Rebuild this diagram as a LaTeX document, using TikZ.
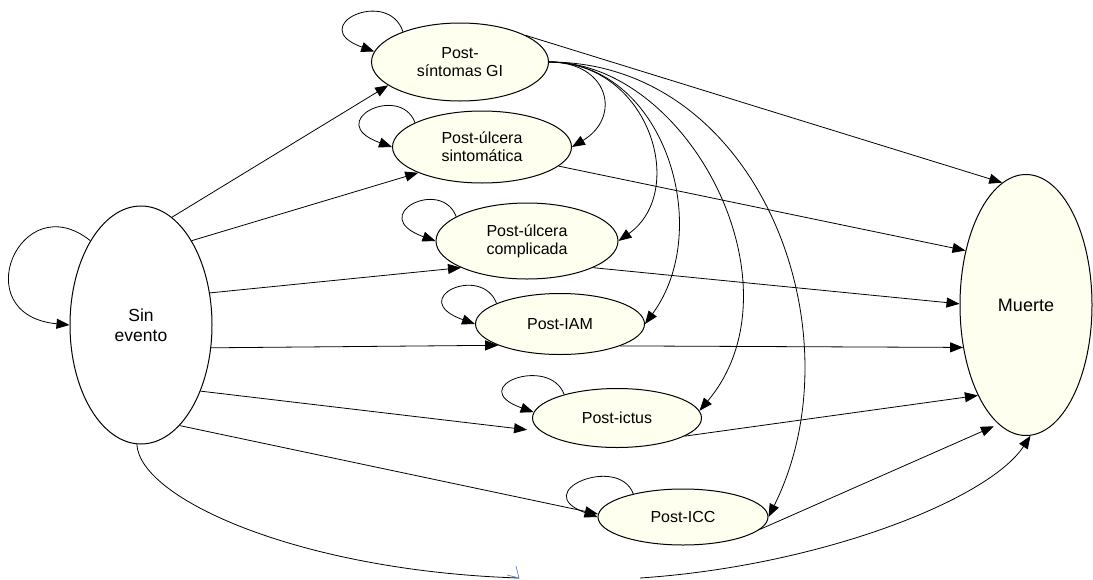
\documentclass[tikz,border=0pt]{standalone}
\usepackage{fontspec}
\setmainfont{Liberation Sans}
\usetikzlibrary{arrows.meta,shapes.geometric}
\definecolor{ivory}{RGB}{255,255,240}
\definecolor{tipblue}{RGB}{79,129,189}
\begin{document}
\begin{tikzpicture}[x=1pt,y=-1pt,
  state/.style={ellipse, draw=black, line width=1pt, fill=ivory, inner sep=0pt,
    align=center, font=\fontsize{16}{18}\selectfont},
  conn/.style={line width=0.8pt, -{Triangle[length=13pt,width=10pt]}},
  plain/.style={line width=0.8pt},
  selfloop/.style={conn}
]
\useasboundingbox (0,0) rectangle (1093,579);
\clip (0,0) rectangle (1093,579);

% nodes
\node[state, fill=white, minimum width=142pt, minimum height=238pt,
      font=\fontsize{17.5}{20}\selectfont] (sin) at (141,325) {Sin\\evento};
\node[state, minimum width=132pt, minimum height=261pt,
      font=\fontsize{18}{21}\selectfont] (muerte) at (1026,305) {Muerte};
\node[state, minimum width=177pt, minimum height=78pt] (gi) at (460,62) {Post-\\síntomas GI};
\node[state, minimum width=179pt, minimum height=72pt] (us) at (482,147) {Post-úlcera\\sintomática};
\node[state, minimum width=182pt, minimum height=76pt] (uc) at (527,241) {Post-úlcera\\complicada};
\node[state, minimum width=169pt, minimum height=61pt] (iam) at (560,324) {Post-IAM};
\node[state, minimum width=169pt, minimum height=59pt] (ictus) at (617,418) {Post-ictus};
\node[state, minimum width=170pt, minimum height=56pt] (icc) at (683,517) {Post-ICC};

% self loops
\draw[selfloop] (sin.121) .. controls +(-70,-56) and +(-105,-10) .. (sin.west);
\draw[selfloop] (gi.152) .. controls +(-15,-45) and +(-70,-25) .. (gi.173);
\draw[selfloop] (us.160) .. controls +(-15,-40) and +(-70,-25) .. (us.west);
\draw[selfloop] (uc.161) .. controls +(-15,-40) and +(-70,-25) .. (uc.west);
\draw[selfloop] (iam.162) .. controls +(-15,-40) and +(-70,-25) .. (iam.west);
\draw[selfloop] (ictus.156) .. controls +(-15,-40) and +(-70,-25) .. (ictus.176);
\draw[selfloop] (icc.155) .. controls +(-15,-40) and +(-70,-25) .. (icc.west);

% from Sin evento
\draw[conn] (sin.74) -- (gi.198);
\draw[conn] (sin.59) -- (us.202);
\draw[conn] (sin.25) -- (uc.202);
\draw[conn] (sin.342) -- (iam.199);
\draw[conn, shorten >=14pt] (sin.312) -- (ictus.190);
\draw[conn] (sin.291) -- (icc.178);

% to Muerte
\draw[conn] (gi.22) -- (muerte.101);
\draw[conn] (us.346) -- (muerte.138);
\draw[conn] (uc.338) -- (muerte.179);
\draw[conn] (iam.340) -- (muerte.214);
\draw[conn] (ictus.345) -- (muerte.242);
\draw[conn, shorten >=5pt] (icc.351) -- (muerte.257);

% curves from Post-sintomas GI
\draw[conn] (gi.east) .. controls +(60,0) and +(50,-30) .. (us.east);
\draw[conn] (gi.east) .. controls +(100,0) and +(70,-50) .. (uc.east);
\draw[conn] (gi.east) .. controls +(115,0) and +(70,-95) .. (iam.east);
\draw[conn] (gi.east) .. controls +(140,0) and +(105,-125) .. (ictus.5);
\draw[conn] (gi.east) .. controls +(210,0) and +(92,-185) .. (icc.east);

% bottom curves
\coordinate (bluetip) at (519,578);
\coordinate (lowstart) at (640,578);
\draw[plain] (sin.268) .. controls +(3,55) and +(-218,-7) .. (bluetip);
\draw[tipblue, line width=0.7pt] (bluetip) +(-12,-3) -- (bluetip) -- +(-3,-12);
\draw[conn] (lowstart) .. controls +(180,-12) and +(-42,64) .. (muerte.272);
\end{tikzpicture}
\end{document}
